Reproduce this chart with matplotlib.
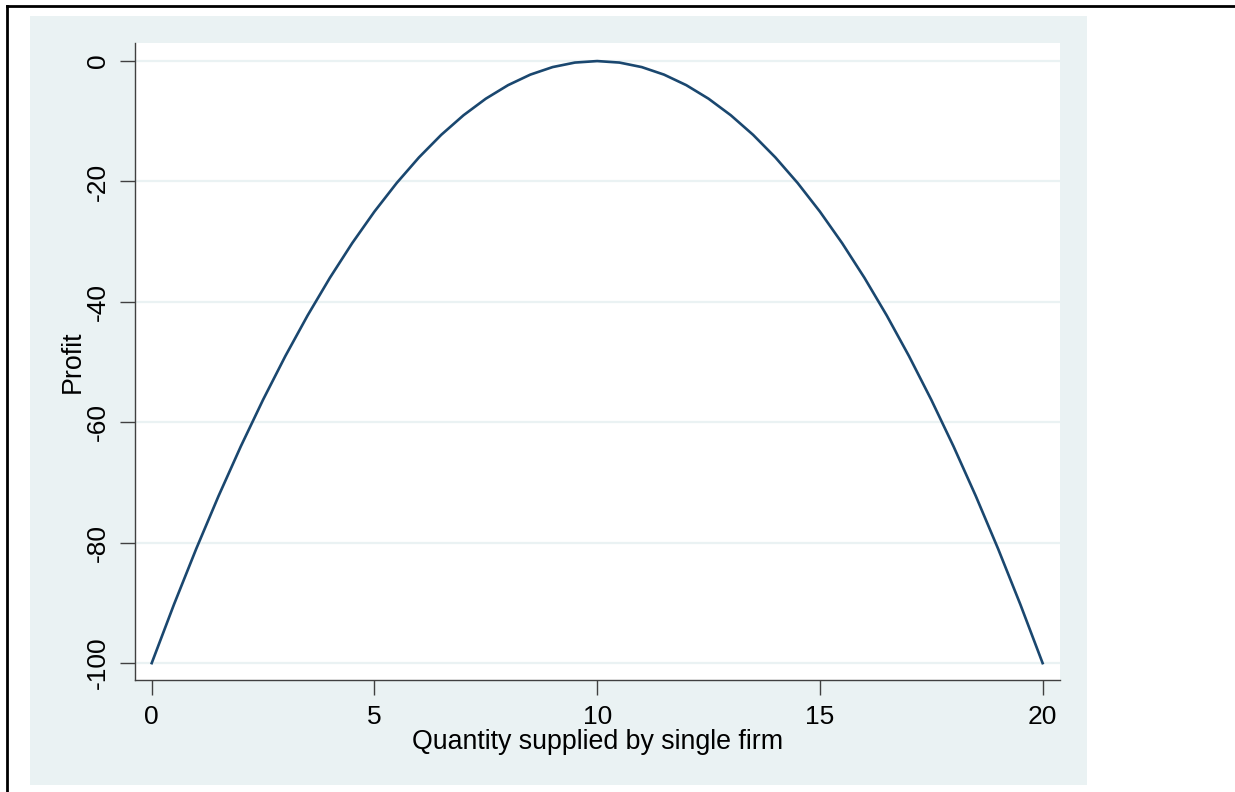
import matplotlib.pyplot as plt
from matplotlib.patches import Rectangle
from matplotlib.lines import Line2D

plt.rcParams["font.family"] = ["Liberation Sans", "DejaVu Sans"]
plt.rcParams["axes.unicode_minus"] = False

# profit of a single firm at each quantity
quantity = [0, 0.5, 1, 1.5, 2, 2.5, 3, 3.5, 4, 4.5, 5, 5.5, 6, 6.5, 7, 7.5, 8,
            8.5, 9, 9.5, 10, 10.5, 11, 11.5, 12, 12.5, 13, 13.5, 14, 14.5, 15,
            15.5, 16, 16.5, 17, 17.5, 18, 18.5, 19, 19.5, 20]
profit = [-100, -90.25, -81, -72.25, -64, -56.25, -49, -42.25, -36, -30.25,
          -25, -20.25, -16, -12.25, -9, -6.25, -4, -2.25, -1, -0.25, 0,
          -0.25, -1, -2.25, -4, -6.25, -9, -12.25, -16, -20.25, -25, -30.25,
          -36, -42.25, -49, -56.25, -64, -72.25, -81, -90.25, -100]
xticks = [0, 5, 10, 15, 20]
yticks = [0, -20, -40, -60, -80, -100]

W, H = 1235, 792
fig = plt.figure(figsize=(W / 100, H / 100), dpi=100)

# graph region and outer frame
fig.patches.append(Rectangle((30 / W, 1 - 785 / H), 1057 / W, 769 / H,
                             transform=fig.transFigure, facecolor="#eaf2f3",
                             edgecolor="none", zorder=-5))
fig.lines.append(Line2D([7 / W, 1], [1 - 6 / H, 1 - 6 / H], transform=fig.transFigure,
                        color="black", lw=2))
fig.lines.append(Line2D([7 / W, 7 / W], [0, 1 - 6 / H], transform=fig.transFigure,
                        color="black", lw=2))

ax = fig.add_axes([135 / W, 1 - 680 / H, 925 / W, 637 / H])
ax.set_facecolor("white")
ax.plot(quantity, profit, color="#1a476f", lw=1.9, zorder=3)

ax.set_xlim(-0.375, 20.39)
ax.set_ylim(-102.8, 3.0)
ax.set_xticks(xticks)
ax.set_yticks(yticks)
ax.yaxis.grid(True, color="#eaf2f3", lw=1.6)
ax.set_axisbelow(True)

for side in ["top", "right"]:
    ax.spines[side].set_visible(False)
for side in ["left", "bottom"]:
    ax.spines[side].set_color("#404040")
    ax.spines[side].set_linewidth(1.0)

ax.tick_params(axis="both", length=11, width=1.0, color="#404040",
               labelsize=19, pad=7)
for lab in ax.get_yticklabels():
    lab.set_rotation(90)
    lab.set_va("center")

ax.set_xlabel("Quantity supplied by single firm", fontsize=19.3, labelpad=0)
ax.set_ylabel("Profit", fontsize=19.3, labelpad=0)

fig.savefig("out.png", dpi=100)
